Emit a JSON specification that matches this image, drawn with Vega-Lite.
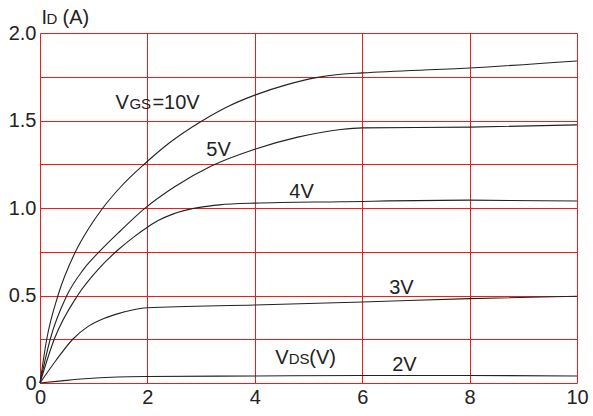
{
  "$schema": "https://vega.github.io/schema/vega-lite/v6.json",
  "width": 537,
  "height": 350,
  "autosize": {"type": "none"},
  "padding": {"left": 40, "top": 33, "right": 16, "bottom": 33},
  "background": "white",
  "config": {
    "view": {"stroke": null},
    "font": "Liberation Sans",
    "axis": {
      "grid": true,
      "gridColor": "#f01c1c",
      "gridOpacity": 1,
      "gridWidth": 1,
      "domain": false,
      "ticks": false,
      "labelFont": "Liberation Sans",
      "labelFontSize": 20,
      "labelColor": "#222222",
      "title": null
    }
  },
  "datasets": {
    "curves": [
      {"vds": 0, "id": 0, "vgs": "10V"},
      {"vds": 0.125, "id": 0.25, "vgs": "10V"},
      {"vds": 0.335, "id": 0.5, "vgs": "10V"},
      {"vds": 0.66, "id": 0.75, "vgs": "10V"},
      {"vds": 0.9, "id": 0.88, "vgs": "10V"},
      {"vds": 1.17, "id": 1.0, "vgs": "10V"},
      {"vds": 1.5, "id": 1.12, "vgs": "10V"},
      {"vds": 1.94, "id": 1.25, "vgs": "10V"},
      {"vds": 2.4, "id": 1.37, "vgs": "10V"},
      {"vds": 3.03, "id": 1.5, "vgs": "10V"},
      {"vds": 3.5, "id": 1.58, "vgs": "10V"},
      {"vds": 4, "id": 1.645, "vgs": "10V"},
      {"vds": 4.6, "id": 1.705, "vgs": "10V"},
      {"vds": 5.2, "id": 1.748, "vgs": "10V"},
      {"vds": 5.6, "id": 1.764, "vgs": "10V"},
      {"vds": 6, "id": 1.772, "vgs": "10V"},
      {"vds": 8, "id": 1.8, "vgs": "10V"},
      {"vds": 10, "id": 1.84, "vgs": "10V"},

      {"vds": 0, "id": 0, "vgs": "5V"},
      {"vds": 0.19, "id": 0.25, "vgs": "5V"},
      {"vds": 0.5, "id": 0.5, "vgs": "5V"},
      {"vds": 0.8, "id": 0.645, "vgs": "5V"},
      {"vds": 1.12, "id": 0.755, "vgs": "5V"},
      {"vds": 1.5, "id": 0.87, "vgs": "5V"},
      {"vds": 1.94, "id": 0.995, "vgs": "5V"},
      {"vds": 2.5, "id": 1.12, "vgs": "5V"},
      {"vds": 3.19, "id": 1.24, "vgs": "5V"},
      {"vds": 4, "id": 1.336, "vgs": "5V"},
      {"vds": 4.8, "id": 1.405, "vgs": "5V"},
      {"vds": 5.6, "id": 1.449, "vgs": "5V"},
      {"vds": 6, "id": 1.458, "vgs": "5V"},
      {"vds": 8, "id": 1.462, "vgs": "5V"},
      {"vds": 10, "id": 1.475, "vgs": "5V"},

      {"vds": 0, "id": 0, "vgs": "4V"},
      {"vds": 0.265, "id": 0.25, "vgs": "4V"},
      {"vds": 0.7, "id": 0.5, "vgs": "4V"},
      {"vds": 1.1, "id": 0.655, "vgs": "4V"},
      {"vds": 1.45, "id": 0.76, "vgs": "4V"},
      {"vds": 1.75, "id": 0.835, "vgs": "4V"},
      {"vds": 2, "id": 0.89, "vgs": "4V"},
      {"vds": 2.2, "id": 0.928, "vgs": "4V"},
      {"vds": 2.47, "id": 0.965, "vgs": "4V"},
      {"vds": 3, "id": 1.005, "vgs": "4V"},
      {"vds": 3.34, "id": 1.018, "vgs": "4V"},
      {"vds": 4, "id": 1.028, "vgs": "4V"},
      {"vds": 5.6, "id": 1.036, "vgs": "4V"},
      {"vds": 8, "id": 1.045, "vgs": "4V"},
      {"vds": 10, "id": 1.04, "vgs": "4V"},

      {"vds": 0, "id": 0, "vgs": "3V"},
      {"vds": 0.3, "id": 0.13, "vgs": "3V"},
      {"vds": 0.61, "id": 0.25, "vgs": "3V"},
      {"vds": 0.89, "id": 0.322, "vgs": "3V"},
      {"vds": 1.2, "id": 0.37, "vgs": "3V"},
      {"vds": 1.44, "id": 0.395, "vgs": "3V"},
      {"vds": 1.7, "id": 0.416, "vgs": "3V"},
      {"vds": 2, "id": 0.43, "vgs": "3V"},
      {"vds": 4, "id": 0.446, "vgs": "3V"},
      {"vds": 6, "id": 0.463, "vgs": "3V"},
      {"vds": 8, "id": 0.482, "vgs": "3V"},
      {"vds": 10, "id": 0.496, "vgs": "3V"},

      {"vds": 0, "id": 0, "vgs": "2V"},
      {"vds": 0.4, "id": 0.012, "vgs": "2V"},
      {"vds": 0.83, "id": 0.024, "vgs": "2V"},
      {"vds": 1.44, "id": 0.034, "vgs": "2V"},
      {"vds": 2, "id": 0.037, "vgs": "2V"},
      {"vds": 4, "id": 0.04, "vgs": "2V"},
      {"vds": 6, "id": 0.043, "vgs": "2V"},
      {"vds": 8, "id": 0.043, "vgs": "2V"},
      {"vds": 10, "id": 0.04, "vgs": "2V"}
    ],
    "labels": [
      {"vds": 1.405, "id": 1.563, "label": "V", "part": "main"},
      {"vds": 1.665, "id": 1.563, "label": "GS", "part": "sub"},
      {"vds": 2.093, "id": 1.563, "label": "=10V", "part": "main"},
      {"vds": 3.098, "id": 1.3, "label": "5V", "part": "main"},
      {"vds": 4.642, "id": 1.058, "label": "4V", "part": "main"},
      {"vds": 6.502, "id": 0.51, "label": "3V", "part": "main"},
      {"vds": 6.558, "id": 0.067, "label": "2V", "part": "main"},
      {"vds": 4.381, "id": 0.106, "label": "V", "part": "main"},
      {"vds": 4.63, "id": 0.106, "label": "DS", "part": "sub"},
      {"vds": 5.014, "id": 0.106, "label": "(V)", "part": "main"},
      {"vds": 0.028, "id": 2.049, "label": "I", "part": "main"},
      {"vds": 0.121, "id": 2.049, "label": "D", "part": "sub"},
      {"vds": 0.419, "id": 2.049, "label": "(A)", "part": "main"}
    ]
  },
  "encoding": {
    "x": {
      "field": "vds",
      "type": "quantitative",
      "scale": {"domain": [0, 10], "nice": false, "zero": false},
      "axis": {"values": [0, 2, 4, 6, 8, 10], "labelPadding": 4, "labelFlush": false, "gridColor": "#f01c1c"}
    },
    "y": {
      "field": "id",
      "type": "quantitative",
      "scale": {"domain": [0, 2], "nice": false, "zero": false},
      "axis": {
        "values": [0, 0.25, 0.5, 0.75, 1, 1.25, 1.5, 1.75, 2],
        "labelPadding": 4,
        "labelFlush": false,
        "gridColor": "#f01c1c",
        "labelExpr": "datum.value == 0 ? '0' : ((datum.value * 2) % 1 == 0 ? format(datum.value, '.1f') : '')"
      }
    }
  },
  "layer": [
    {
      "data": {"name": "curves"},
      "mark": {"type": "line", "interpolate": "monotone", "color": "#222222", "strokeWidth": 1.1},
      "encoding": {"detail": {"field": "vgs", "type": "nominal"}}
    },
    {
      "data": {"name": "labels"},
      "transform": [{"filter": "datum.part == 'main'"}],
      "mark": {"type": "text", "align": "left", "baseline": "alphabetic", "fontSize": 20, "font": "Liberation Sans", "color": "#222222"},
      "encoding": {"text": {"field": "label", "type": "nominal"}}
    },
    {
      "data": {"name": "labels"},
      "transform": [{"filter": "datum.part == 'sub'"}],
      "mark": {"type": "text", "align": "left", "baseline": "alphabetic", "fontSize": 15, "font": "Liberation Sans", "color": "#222222"},
      "encoding": {"text": {"field": "label", "type": "nominal"}}
    }
  ]
}
